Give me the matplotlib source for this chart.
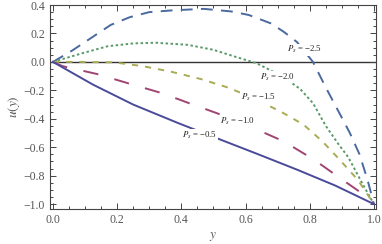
import matplotlib
matplotlib.use("Agg")
import matplotlib.pyplot as plt
from matplotlib.ticker import MultipleLocator

plt.rcParams['font.family'] = ['Liberation Serif', 'DejaVu Serif']
plt.rcParams['mathtext.fontset'] = 'stix'
plt.rcParams['lines.scale_dashes'] = False

# curves: y values and u(y) values for each P_s
y_25 = [0, 0.06, 0.12, 0.18, 0.24, 0.30, 0.375, 0.47, 0.555, 0.61, 0.68, 0.72, 0.76, 0.81, 0.85, 0.89, 0.925, 0.955, 0.98, 1.0]
u_25 = [0, 0.08, 0.17, 0.26, 0.315, 0.35, 0.363, 0.373, 0.355, 0.33, 0.27, 0.21, 0.14, 0.0, -0.18, -0.35, -0.50, -0.65, -0.83, -1.0]

y_20 = [0, 0.09, 0.17, 0.25, 0.32, 0.42, 0.50, 0.57, 0.635, 0.67, 0.72, 0.77, 0.81, 0.85, 0.89, 0.92, 0.965, 1.0]
u_20 = [0, 0.06, 0.11, 0.13, 0.135, 0.12, 0.085, 0.035, -0.01, -0.05, -0.11, -0.19, -0.29, -0.45, -0.58, -0.67, -0.86, -1.0]

y_15 = [0, 0.09, 0.19, 0.28, 0.37, 0.46, 0.545, 0.62, 0.71, 0.78, 0.84, 0.89, 0.95, 1.0]
u_15 = [0, 0.0, -0.003, -0.03, -0.07, -0.12, -0.18, -0.25, -0.35, -0.44, -0.56, -0.68, -0.83, -1.0]

y_10 = [0, 0.03, 0.137, 0.234, 0.34, 0.43, 0.51, 0.576, 0.64, 0.72, 0.815, 0.89, 0.96, 1.0]
u_10 = [0, -0.03, -0.085, -0.15, -0.22, -0.295, -0.36, -0.42, -0.48, -0.56, -0.69, -0.81, -0.92, -1.0]

y_05 = [0, 0.125, 0.25, 0.39, 0.526, 0.64, 0.763, 0.88, 1.0]
u_05 = [0, -0.16, -0.30, -0.43, -0.55, -0.65, -0.76, -0.87, -1.0]

labels = ['$P_s$ = \u22122.5', '$P_s$ = \u22122.0', '$P_s$ = \u22121.5', '$P_s$ = \u22121.0', '$P_s$ = \u22120.5']
label_pos = [(0.785, 0.085), (0.70, -0.106), (0.64, -0.25), (0.576, -0.415), (0.458, -0.514)]

fig = plt.figure(figsize=(3.82, 2.44), dpi=100)
ax = fig.add_axes([0.131, 0.143, 0.853, 0.837])

ax.axhline(0, color='#333333', lw=1.0, zorder=1)

ax.plot(y_25, u_25, color='#4a6a9e', lw=1.4, dashes=(8.5, 6))
ax.plot(y_20, u_20, color='#5a9a6a', lw=1.4, dashes=(1.8, 1.8))
ax.plot(y_15, u_15, color='#a8ac55', lw=1.4, dashes=(4.5, 5))
ax.plot(y_10, u_10, color='#a04472', lw=1.4, dashes=(11, 12))
ax.plot(y_05, u_05, color='#4a4a9a', lw=1.4)

for txt, (px, py) in zip(labels, label_pos):
    ax.text(px, py, txt, fontsize=6.3, ha='center', va='center', color='#222222',
            bbox=dict(facecolor='white', edgecolor='none', pad=0.5), zorder=5)

ax.set_xlim(-0.009, 1.006)
ax.set_ylim(-1.035, 0.401)
ax.xaxis.set_major_locator(MultipleLocator(0.2))
ax.xaxis.set_minor_locator(MultipleLocator(0.05))
ax.yaxis.set_major_locator(MultipleLocator(0.2))
ax.yaxis.set_minor_locator(MultipleLocator(0.05))
ax.yaxis.set_major_formatter(plt.FuncFormatter(lambda v, p: f'{v:.1f}'.replace('-', '\u2212')))
ax.xaxis.set_major_formatter(plt.FuncFormatter(lambda v, p: f'{v:.1f}'))

ax.tick_params(which='both', direction='in', top=True, right=True, color='#444444',
               labelcolor='#555555', labelsize=8.5, width=0.7)
ax.tick_params(which='major', length=4)
ax.tick_params(which='minor', length=2)
for s in ax.spines.values():
    s.set_color('#444444')
    s.set_linewidth(0.8)

ax.set_xlabel('$y$', fontsize=9.5, color='#555555', labelpad=3)
ax.set_ylabel('$u(y)$', fontsize=9.5, color='#555555', labelpad=1)

fig.savefig('out.png', dpi=100)
